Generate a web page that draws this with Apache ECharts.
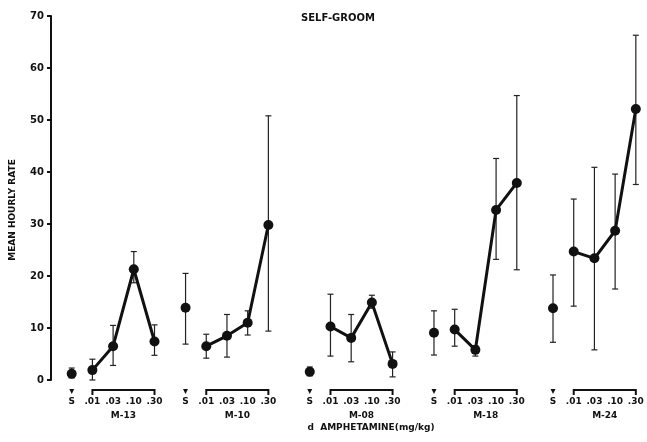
<!DOCTYPE html>
<html>
<head>
<meta charset="utf-8">
<script src="https://cdn.jsdelivr.net/npm/echarts@6/dist/echarts.min.js"></script>
<style>
  html, body { margin: 0; padding: 0; background: #fff; }
  #chart { width: 647px; height: 442px; }
</style>
</head>
<body>
<div id="chart"></div>
<script>
// animals and doses (S = saline)
const groups = ['M-13', 'M-10', 'M-08', 'M-18', 'M-24'];
const doses = ['S', '.01', '.03', '.10', '.30'];
// where each animal's block starts on the x scale (in dose slots)
const groupStart = [0, 5.5, 11.5, 17.5, 23.25];

// mean hourly rate, per animal: S, .01, .03, .10, .30
const means = [
  [1.2, 1.9, 6.5, 21.3, 7.4],
  [13.9, 6.5, 8.5, 11.0, 29.8],
  [1.6, 10.3, 8.1, 14.9, 3.1],
  [9.1, 9.7, 5.8, 32.7, 37.9],
  [13.8, 24.7, 23.4, 28.7, 52.1]
];
const highs = [
  [2.3, 4.0, 10.5, 24.7, 10.6],
  [20.5, 8.8, 12.6, 13.3, 50.8],
  [2.5, 16.5, 12.6, 16.3, 5.4],
  [13.3, 13.6, 6.6, 42.6, 54.7],
  [20.2, 34.8, 40.9, 39.6, 66.3]
];
const lows = [
  [0.4, 0, 2.8, 18.7, 4.75],
  [6.9, 4.2, 4.4, 8.65, 9.4],
  [0.8, 4.6, 3.5, 13.8, 0.6],
  [4.8, 6.5, 4.6, 23.2, 21.2],
  [7.25, 14.2, 5.8, 17.5, 37.6]
];
const yTicks = [0, 10, 20, 30, 40, 50, 60, 70];

const FONT = 'DejaVu Sans';
const INK = '#111';

// x label lookup, keyed on quarter slots
const labelAt = {};
groups.forEach((g, gi) => {
  doses.forEach((d, di) => {
    const k = Math.round((groupStart[gi] + di) * 4);
    labelAt[k] = (d === 'S' ? '{t|▾}' : '{t| }') + '\n{d|' + d + '}';
  });
  labelAt[Math.round((groupStart[gi] + 2.5) * 4)] = '{t| }\n{d| }\n{g|' + g + '}';
});

const series = [];
const errData = [];
groups.forEach((g, gi) => {
  const x0 = groupStart[gi];
  series.push({
    name: g + ' S',
    type: 'scatter',
    symbol: 'circle',
    symbolSize: 10,
    itemStyle: { color: INK, opacity: 1 },
    z: 5,
    data: [[x0, means[gi][0]]]
  });
  series.push({
    name: g,
    type: 'line',
    symbol: 'circle',
    symbolSize: 10,
    showAllSymbol: true,
    itemStyle: { color: INK },
    lineStyle: { color: INK, width: 3 },
    z: 5,
    data: [1, 2, 3, 4].map(di => [x0 + di, means[gi][di]])
  });
  doses.forEach((d, di) => {
    errData.push([x0 + di, lows[gi][di], highs[gi][di]]);
  });
});

// error bars
series.push({
  type: 'custom',
  data: errData,
  encode: { x: 0, y: [1, 2] },
  z: 3,
  renderItem: function (params, api) {
    const x = api.value(0);
    const lo = api.coord([x, api.value(1)]);
    const hi = api.coord([x, api.value(2)]);
    const w = 3;
    const st = { stroke: '#222', lineWidth: 1.2 };
    return {
      type: 'group',
      children: [
        { type: 'line', shape: { x1: hi[0], y1: hi[1], x2: lo[0], y2: lo[1] }, style: st },
        { type: 'line', shape: { x1: hi[0] - w, y1: hi[1], x2: hi[0] + w, y2: hi[1] }, style: st },
        { type: 'line', shape: { x1: lo[0] - w, y1: lo[1], x2: lo[0] + w, y2: lo[1] }, style: st }
      ]
    };
  }
});

// dose brackets under each animal
series.push({
  type: 'custom',
  data: groupStart.map(s => [s + 1, s + 4]),
  encode: { x: [0, 1] },
  renderItem: function (params, api) {
    const a = api.coord([api.value(0), 0]);
    const b = api.coord([api.value(1), 0]);
    const y = a[1] + 10;
    return {
      type: 'polyline',
      shape: { points: [[a[0], y + 5], [a[0], y], [b[0], y], [b[0], y + 5]] },
      style: { stroke: INK, lineWidth: 2, fill: null }
    };
  }
});

const chart = echarts.init(document.getElementById('chart'));
chart.setOption({
  animation: false,
  backgroundColor: '#fff',
  graphic: [
    {
      type: 'text', x: 338, y: 18,
      style: { text: 'SELF-GROOM', font: 'bold 10px "' + FONT + '"', fill: INK, align: 'center', verticalAlign: 'middle' }
    },
    {
      type: 'text', x: 371, y: 428,
      style: { text: 'd  AMPHETAMINE(mg/kg)', font: 'bold 9px "' + FONT + '"', fill: INK, align: 'center', verticalAlign: 'middle' }
    }
  ],
  grid: { left: 51, right: 6, top: 16, bottom: 62, containLabel: false, outerBoundsMode: 'none' },
  xAxis: {
    type: 'value',
    min: -1,
    max: 27.5,
    interval: 0.25,
    axisLine: { show: false },
    axisTick: { show: false },
    splitLine: { show: false },
    axisLabel: {
      margin: 7,
      formatter: v => labelAt[Math.round(v * 4)] || '',
      rich: {
        t: { fontFamily: FONT, fontSize: 10, lineHeight: 9, color: INK },
        d: { fontFamily: FONT, fontSize: 9, fontWeight: 'bold', lineHeight: 12, color: INK },
        g: { fontFamily: FONT, fontSize: 9, fontWeight: 'bold', lineHeight: 16, color: INK }
      }
    }
  },
  yAxis: {
    type: 'value',
    min: yTicks[0],
    max: yTicks[yTicks.length - 1],
    interval: 10,
    name: 'MEAN HOURLY RATE',
    nameLocation: 'middle',
    nameGap: 34,
    nameTextStyle: { fontFamily: FONT, fontSize: 9, fontWeight: 'bold', color: INK, padding: [0, 24, 0, 0] },
    axisLine: { show: true, onZero: false, lineStyle: { color: INK, width: 2 } },
    axisTick: { show: true, length: 4, lineStyle: { color: INK, width: 2 } },
    splitLine: { show: false },
    axisLabel: { fontFamily: FONT, fontSize: 10, fontWeight: 'bold', color: INK, margin: 7 }
  },
  series: series
});
</script>
</body>
</html>
